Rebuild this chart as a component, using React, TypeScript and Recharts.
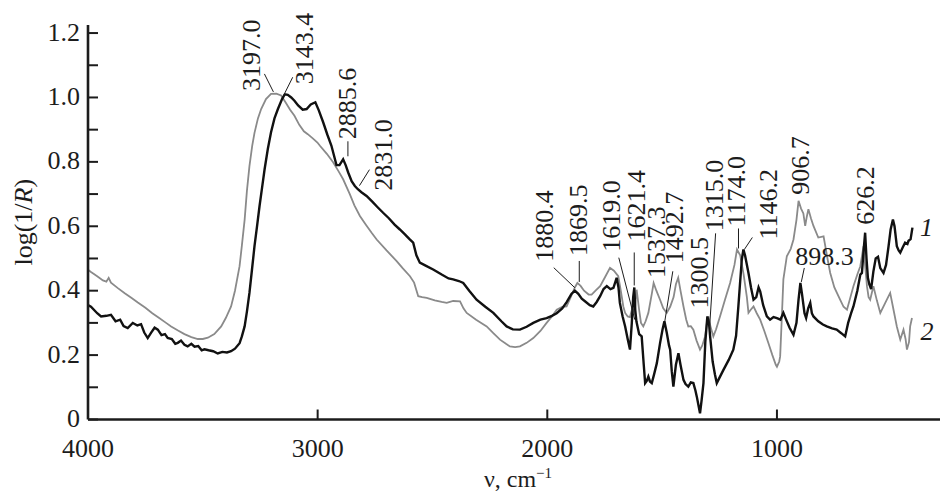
import { LineChart, Line, XAxis, YAxis, ReferenceDot, Label } from 'recharts';

const FONT = 'Liberation Serif, Times New Roman, Times, DejaVu Serif, serif';
const INK = '#1c1c1c';
const txt = { fontFamily: FONT, fontSize: 26, fill: INK };

// spectrum 1 (black): [wavenumber, log(1/R)]
const curve1: [number, number][] = [
  [4000, 0.355], [3987, 0.35], [3960, 0.33], [3943, 0.32], [3920, 0.322], [3900, 0.325], [3880, 0.305],
  [3860, 0.31], [3845, 0.29], [3827, 0.284], [3805, 0.3], [3785, 0.292], [3769, 0.296], [3755, 0.27],
  [3740, 0.253], [3725, 0.27], [3710, 0.285], [3696, 0.279], [3680, 0.262], [3665, 0.265], [3653, 0.253],
  [3635, 0.25], [3620, 0.235], [3609, 0.238], [3595, 0.245], [3580, 0.232], [3566, 0.227], [3550, 0.235],
  [3536, 0.226], [3520, 0.228], [3505, 0.215], [3493, 0.218], [3475, 0.215], [3455, 0.212], [3435, 0.205],
  [3415, 0.21], [3395, 0.208], [3377, 0.212], [3360, 0.22], [3340, 0.237], [3330, 0.258], [3318, 0.289],
  [3308, 0.335], [3297, 0.393], [3286, 0.465], [3275, 0.538], [3264, 0.6], [3253, 0.663], [3242, 0.72],
  [3231, 0.777], [3217, 0.84], [3203, 0.892], [3188, 0.935], [3173, 0.964], [3155, 0.995], [3143, 1.01],
  [3130, 1.008], [3115, 1.0], [3101, 0.99], [3085, 0.975], [3065, 0.962], [3048, 0.964], [3030, 0.978],
  [3010, 0.985], [2995, 0.96], [2976, 0.923], [2958, 0.885], [2940, 0.85], [2918, 0.79], [2905, 0.79],
  [2889, 0.808], [2878, 0.79], [2867, 0.767], [2852, 0.74], [2838, 0.725], [2825, 0.715], [2808, 0.705],
  [2787, 0.694], [2760, 0.675], [2740, 0.66], [2715, 0.642], [2690, 0.625], [2665, 0.605], [2642, 0.59],
  [2620, 0.575], [2600, 0.56], [2584, 0.549], [2570, 0.51], [2555, 0.487], [2530, 0.478], [2497, 0.466],
  [2460, 0.45], [2430, 0.438], [2410, 0.435], [2385, 0.43], [2366, 0.424], [2340, 0.4], [2308, 0.372],
  [2270, 0.35], [2235, 0.331], [2200, 0.305], [2177, 0.289], [2150, 0.28], [2119, 0.279], [2090, 0.288],
  [2061, 0.3], [2030, 0.31], [2003, 0.315], [1980, 0.322], [1959, 0.33], [1935, 0.345], [1915, 0.365],
  [1895, 0.39], [1880, 0.4], [1865, 0.39], [1850, 0.375], [1836, 0.367], [1815, 0.355], [1800, 0.351],
  [1785, 0.365], [1770, 0.383], [1755, 0.405], [1741, 0.414], [1725, 0.405], [1712, 0.409], [1698, 0.44],
  [1690, 0.41], [1684, 0.362], [1672, 0.32], [1661, 0.289], [1650, 0.25], [1640, 0.217], [1632, 0.3],
  [1626, 0.38], [1621, 0.41], [1617, 0.34], [1612, 0.305], [1600, 0.265], [1589, 0.258], [1580, 0.17],
  [1574, 0.113], [1567, 0.12], [1560, 0.133], [1553, 0.118], [1545, 0.113], [1535, 0.14], [1523, 0.175],
  [1509, 0.237], [1498, 0.28], [1490, 0.305], [1480, 0.27], [1470, 0.23], [1465, 0.217], [1458, 0.15],
  [1451, 0.102], [1440, 0.17], [1429, 0.206], [1420, 0.17], [1407, 0.123], [1398, 0.11], [1386, 0.102],
  [1375, 0.115], [1364, 0.113], [1355, 0.09], [1349, 0.071], [1342, 0.045], [1335, 0.019], [1328, 0.06],
  [1320, 0.113], [1312, 0.24], [1303, 0.32], [1296, 0.3], [1291, 0.258], [1280, 0.18], [1270, 0.14],
  [1262, 0.113], [1250, 0.13], [1233, 0.154], [1210, 0.185], [1190, 0.217], [1178, 0.26], [1168, 0.351],
  [1160, 0.43], [1153, 0.497], [1146, 0.528], [1139, 0.51], [1124, 0.455], [1113, 0.41], [1102, 0.372],
  [1090, 0.38], [1080, 0.41], [1073, 0.398], [1060, 0.355], [1044, 0.32], [1030, 0.31], [1015, 0.318],
  [1000, 0.315], [985, 0.31], [972, 0.331], [960, 0.31], [945, 0.285], [928, 0.263], [915, 0.3],
  [906, 0.372], [898, 0.424], [891, 0.39], [880, 0.33], [873, 0.315], [864, 0.345], [855, 0.362],
  [848, 0.33], [841, 0.32], [820, 0.305], [800, 0.295], [783, 0.289], [760, 0.283], [740, 0.279],
  [720, 0.268], [703, 0.258], [690, 0.3], [677, 0.33], [667, 0.351], [650, 0.4], [637, 0.45], [630, 0.455],
  [622, 0.53], [616, 0.58], [610, 0.5], [604, 0.44], [598, 0.42], [590, 0.405], [580, 0.46], [570, 0.5],
  [560, 0.505], [550, 0.47], [536, 0.455], [525, 0.48], [514, 0.538], [505, 0.59], [495, 0.621],
  [488, 0.6], [478, 0.538], [470, 0.525], [463, 0.518], [452, 0.535], [442, 0.549], [432, 0.545],
  [427, 0.555], [418, 0.56], [410, 0.596],
];

// spectrum 2 (grey)
const curve2: [number, number][] = [
  [4000, 0.465], [3987, 0.458], [3960, 0.445], [3935, 0.432], [3920, 0.428], [3910, 0.44], [3900, 0.425],
  [3870, 0.408], [3840, 0.392], [3810, 0.377], [3783, 0.363], [3750, 0.347], [3720, 0.33], [3690, 0.315],
  [3660, 0.3], [3638, 0.289], [3610, 0.277], [3580, 0.265], [3550, 0.256], [3522, 0.25], [3500, 0.25],
  [3478, 0.254], [3450, 0.265], [3420, 0.289], [3400, 0.315], [3377, 0.351], [3360, 0.4], [3340, 0.476],
  [3330, 0.54], [3318, 0.62], [3308, 0.71], [3297, 0.787], [3285, 0.85], [3275, 0.89], [3260, 0.935],
  [3246, 0.964], [3225, 0.995], [3203, 1.011], [3180, 1.012], [3159, 1.006], [3140, 0.985], [3120, 0.962],
  [3101, 0.943], [3080, 0.915], [3060, 0.895], [3043, 0.886], [3020, 0.872], [3001, 0.86], [2990, 0.85],
  [2960, 0.825], [2932, 0.798], [2910, 0.772], [2889, 0.746], [2860, 0.7], [2840, 0.665], [2816, 0.632],
  [2790, 0.605], [2765, 0.58], [2743, 0.559], [2700, 0.525], [2656, 0.492], [2630, 0.47], [2598, 0.445],
  [2580, 0.425], [2562, 0.383], [2545, 0.38], [2525, 0.378], [2490, 0.37], [2460, 0.365], [2438, 0.362],
  [2410, 0.368], [2380, 0.367], [2365, 0.345], [2351, 0.331], [2310, 0.31], [2264, 0.289], [2235, 0.268],
  [2206, 0.248], [2180, 0.235], [2163, 0.227], [2140, 0.225], [2119, 0.227], [2090, 0.238], [2061, 0.253],
  [2030, 0.275], [2003, 0.3], [1980, 0.32], [1959, 0.341], [1935, 0.35], [1916, 0.351], [1895, 0.385],
  [1880, 0.41], [1869, 0.424], [1855, 0.415], [1840, 0.4], [1820, 0.388], [1807, 0.388], [1790, 0.4],
  [1770, 0.414], [1750, 0.44], [1727, 0.471], [1710, 0.462], [1691, 0.445], [1680, 0.4], [1669, 0.351],
  [1661, 0.331], [1650, 0.32], [1640, 0.318], [1630, 0.345], [1620, 0.33], [1611, 0.403], [1600, 0.34],
  [1592, 0.3], [1582, 0.289], [1572, 0.305], [1560, 0.331], [1545, 0.39], [1537, 0.424], [1525, 0.4],
  [1509, 0.372], [1495, 0.345], [1480, 0.331], [1465, 0.35], [1450, 0.38], [1440, 0.42], [1430, 0.44],
  [1420, 0.4], [1407, 0.351], [1395, 0.31], [1386, 0.289], [1375, 0.29], [1364, 0.279], [1350, 0.245],
  [1335, 0.217], [1325, 0.23], [1313, 0.258], [1305, 0.3], [1298, 0.32], [1290, 0.29], [1277, 0.258],
  [1265, 0.28], [1248, 0.32], [1225, 0.375], [1204, 0.424], [1185, 0.48], [1174, 0.528], [1160, 0.51],
  [1145, 0.45], [1131, 0.38], [1124, 0.331], [1115, 0.34], [1102, 0.351], [1088, 0.33], [1073, 0.31],
  [1055, 0.275], [1037, 0.237], [1020, 0.2], [1005, 0.17], [1000, 0.164], [990, 0.18], [986, 0.196],
  [978, 0.33], [972, 0.435], [957, 0.507], [940, 0.53], [928, 0.559], [915, 0.62], [906, 0.679],
  [895, 0.655], [885, 0.64], [877, 0.601], [870, 0.63], [863, 0.653], [852, 0.625], [841, 0.601],
  [820, 0.565], [797, 0.569], [780, 0.5], [768, 0.455], [750, 0.41], [725, 0.372], [710, 0.35],
  [695, 0.341], [680, 0.38], [667, 0.414], [650, 0.45], [637, 0.476], [623, 0.538], [615, 0.47],
  [608, 0.414], [601, 0.38], [594, 0.372], [580, 0.414], [565, 0.37], [550, 0.331], [530, 0.36],
  [507, 0.393], [495, 0.35], [478, 0.289], [463, 0.248], [449, 0.279], [440, 0.25], [434, 0.217],
  [425, 0.24], [420, 0.289], [412, 0.315],
];

const xTicks = [1000, 2000, 3000, 4000];
const yTicks = [0, 0.1, 0.2, 0.3, 0.4, 0.5, 0.6, 0.7, 0.8, 0.9, 1.0, 1.1, 1.2];

// band labels: wavenumber, value where the label points, text
const peaks: [number, number, string][] = [
  [3197, 1.011, '3197.0'],
  [3143.4, 1.01, '3143.4'],
  [2885.6, 0.808, '2885.6'],
  [2831, 0.72, '2831.0'],
  [1880.4, 0.4, '1880.4'],
  [1869.5, 0.424, '1869.5'],
  [1619, 0.31, '1619.0'],
  [1621.4, 0.41, '1621.4'],
  [1537.3, 0.424, '1537.3'],
  [1492.7, 0.305, '1492.7'],
  [1300.5, 0.32, '1300.5'],
  [1315, 0.28, '1315.0'],
  [1174, 0.528, '1174.0'],
  [1146.2, 0.528, '1146.2'],
  [906.7, 0.679, '906.7'],
  [898.3, 0.424, '898.3'],
  [626.2, 0.58, '626.2'],
];

// pixel offsets of each label from its point: leader [x1,y1,x2,y2], text dx/dy
const peakLayout: Record<string, { line?: number[]; dx: number; dy: number; flat?: boolean }> = {
  '3197.0': { line: [1, -2, -8, -20], dx: -21, dy: -3 },
  '3143.4': { line: [-1, 1, 8, -17], dx: 20, dy: -10 },
  '2885.6': { line: [4, -3, 4, -18], dx: 4, dy: -20 },
  '2831.0': { line: [3, -2, 13, -18], dx: 27, dy: 3 },
  '1880.4': { line: [0, -3, -21, -23], dx: -30, dy: -29 },
  '1869.5': { line: [2, -1, 2, -22], dx: 1, dy: -27 },
  '1619.0': { line: [0, 0, -16, -62], dx: -23, dy: -68 },
  '1621.4': { line: [0, -2, 0, -35], dx: 2.5, dy: -46 },
  '1537.3': { dx: 3, dy: -5 },
  '1492.7': { line: [1, 0, 9, -50], dx: 11, dy: -58 },
  '1300.5': { dx: -8, dy: -8 },
  '1315.0': { line: [5, -2, 11, -96], dx: 9.5, dy: -98 },
  '1174.0': { line: [1.5, -1, 1.5, -21], dx: 0, dy: -23 },
  '1146.2': { line: [1, 0, 9, -12], dx: 25, dy: -10 },
  '906.7': { dx: 2, dy: -6 },
  '898.3': { line: [1, -1, 4, -15], dx: -5, dy: -18, flat: true },
  '626.2': { dx: 2.5, dy: -8 },
};

const series1 = curve1.map(([nu, v]) => ({ nu, v }));
const series2 = curve2.map(([nu, v]) => ({ nu, v }));
const end1 = curve1[curve1.length - 1];
const end2 = curve2[curve2.length - 1];

function YTick(props: any) {
  const { x, y, payload } = props;
  const v = payload.value;
  const major = Math.round(v * 10) % 2 === 0;
  return (
    <g>
      <line x1={x} x2={x + 10} y1={y} y2={y} stroke={INK} strokeWidth={2} />
      {major && (
        <text x={x - 8} y={y + 7.5} textAnchor="end" fontFamily={FONT} style={txt}>
          {v === 0 ? '0' : v.toFixed(1)}
        </text>
      )}
    </g>
  );
}

function XTick(props: any) {
  const { x, y, payload } = props;
  return (
    <g>
      {payload.value !== 4000 && <line x1={x} x2={x} y1={y} y2={y - 10} stroke={INK} strokeWidth={2} />}
      <text x={x} y={y + 37} textAnchor="middle" fontFamily={FONT} style={txt}>
        {payload.value}
      </text>
    </g>
  );
}

function YTitle(props: any) {
  const { x, y, height } = props.viewBox;
  const cx = x + 23;
  const cy = y + height / 2;
  return (
    <text x={cx} y={cy} transform={`rotate(-90 ${cx} ${cy})`} textAnchor="middle" dominantBaseline="central"
      fontFamily={FONT} style={txt}>
      log(1/<tspan style={{ fontStyle: 'italic' }}>R</tspan>)
    </text>
  );
}

function XTitle(props: any) {
  const { x, y, width } = props.viewBox;
  return (
    <text x={x + width / 2 + 4} y={y + 67.5} textAnchor="middle" fontFamily={FONT}
      style={{ ...txt, fontSize: 24 }}>
      ν, cm<tspan style={{ fontSize: 15 }} dy={-9}>−1</tspan>
    </text>
  );
}

function peakShape(text: string) {
  const lay = peakLayout[text];
  return (p: any) => {
    const { cx, cy } = p;
    const tx = cx + lay.dx;
    const ty = cy + lay.dy;
    return (
      <g>
        {lay.line && (
          <line x1={cx + lay.line[0]} y1={cy + lay.line[1]} x2={cx + lay.line[2]} y2={cy + lay.line[3]}
            stroke={INK} strokeWidth={1} />
        )}
        {lay.flat ? (
          <text x={tx} y={ty} fontFamily={FONT} style={txt}>{text}</text>
        ) : (
          <text x={tx} y={ty} transform={`rotate(-90 ${tx} ${ty})`} dominantBaseline="central"
            fontFamily={FONT} style={txt}>{text}</text>
        )}
      </g>
    );
  };
}

function curveTag(text: string, dx: number, dy: number) {
  return (p: any) => (
    <text x={p.cx + dx} y={p.cy + dy} textAnchor="middle" dominantBaseline="central" fontFamily={FONT}
      style={{ ...txt, fontStyle: 'italic' }}>{text}</text>
  );
}

export default function App() {
  return (
    <div style={{ position: 'absolute', left: 0, top: 0, width: 940, height: 493, background: '#fff', fontFamily: FONT }}>
      <LineChart width={940} height={493} margin={{ top: 25, right: 0, bottom: 0, left: 0 }}>
        <XAxis
          type="number"
          dataKey="nu"
          domain={[290, 4000]}
          reversed
          allowDataOverflow
          ticks={xTicks}
          interval={0}
          height={73.5}
          tickSize={0}
          tickMargin={0}
          tickLine={false}
          tick={<XTick />}
          axisLine={{ stroke: INK, strokeWidth: 2.6 }}
        >
          <Label content={<XTitle />} />
        </XAxis>
        <YAxis
          type="number"
          domain={[0, 1.225]}
          allowDataOverflow
          ticks={yTicks}
          interval={0}
          width={88}
          tickSize={0}
          tickMargin={0}
          tickLine={false}
          tick={<YTick />}
          axisLine={{ stroke: INK, strokeWidth: 2.6 }}
        >
          <Label content={<YTitle />} />
        </YAxis>
        <Line data={series2} dataKey="v" type="linear" stroke="#8a8a8a" strokeWidth={1.8} dot={false}
          isAnimationActive={false} />
        <Line data={series1} dataKey="v" type="linear" stroke="#111" strokeWidth={2.4} dot={false}
          isAnimationActive={false} />
        {peaks.map(([nu, v, text]) => (
          <ReferenceDot key={text} x={nu} y={v} r={0} ifOverflow="visible" shape={peakShape(text)} />
        ))}
        <ReferenceDot x={end1[0]} y={end1[1]} r={0} ifOverflow="visible" shape={curveTag('1', 14, 0)} />
        <ReferenceDot x={end2[0]} y={end2[1]} r={0} ifOverflow="visible" shape={curveTag('2', 15, 13)} />
      </LineChart>
    </div>
  );
}
